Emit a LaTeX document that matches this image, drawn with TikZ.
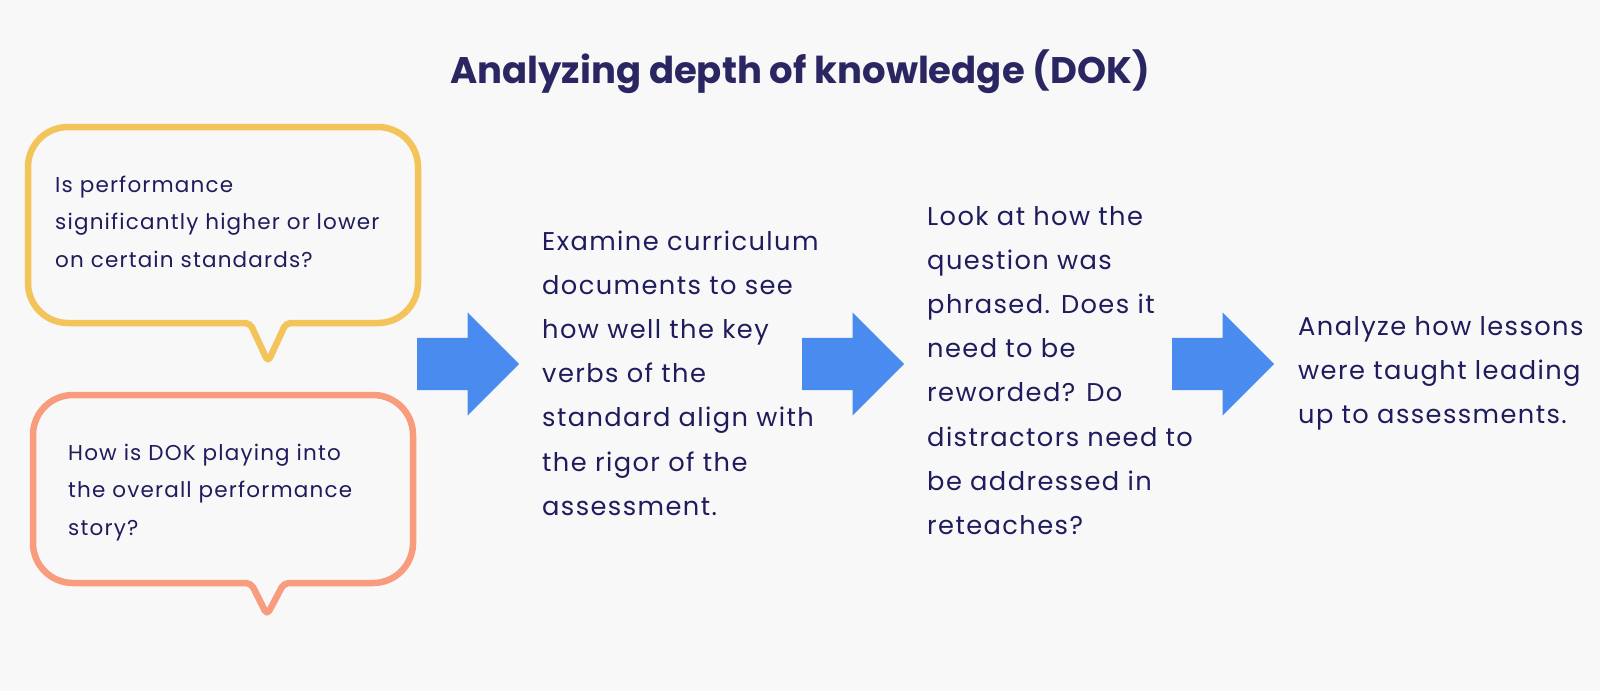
\documentclass[tikz,border=0pt]{standalone}
\usepackage{fontspec}
\setmainfont{Poppins}
\usetikzlibrary{shapes.arrows}
\definecolor{bgc}{HTML}{F8F8F9}
\definecolor{navy}{HTML}{1F1C5C}
\definecolor{titlec}{HTML}{2A2662}
\definecolor{yellowb}{HTML}{F2C45A}
\definecolor{salmonb}{HTML}{F99B7D}
\definecolor{bluea}{HTML}{4A8BF0}
\tikzset{
  bubble/.style={line width=6.5pt, line join=round},
  txt/.style={anchor=base west, inner sep=0pt, text=navy},
  bigarrow/.style={single arrow, fill=bluea, draw=none, inner xsep=0pt, inner ysep=26pt,
    minimum height=102pt, single arrow head extend=25.5pt,
    single arrow tip angle=90, anchor=tail},
}
\newcommand{\btext}[1]{\parbox[t]{420pt}{\fontsize{21.5}{37.5}\selectfont\addfontfeatures{LetterSpace=5.5}\raggedright #1}}
\newcommand{\ctext}[1]{\parbox[t]{420pt}{\fontsize{25.7}{44.2}\selectfont\addfontfeatures{LetterSpace=5.5}\raggedright #1}}
\begin{document}
\begin{tikzpicture}[x=1pt,y=-1pt]
\fill[bgc] (0,0) rectangle (1600,691);
\useasboundingbox (0,0) rectangle (1600,691);
% title
\node[anchor=base, inner sep=0pt, text=titlec, font=\fontsize{37}{44}\selectfont\bfseries] (title) at (800,83) {Analyzing depth of knowledge (DOK)};
% bubbles
\draw[bubble, yellowb] (268,362) [rounded corners=5] -- (286,323) [rounded corners=40] -- (418,323) -- (418,127) -- (28,127) -- (28,323) [rounded corners=5] -- (250,323) -- cycle;
\draw[bubble, salmonb] (267,615) [rounded corners=5] -- (284,583) [rounded corners=40] -- (413,583) -- (413,395) -- (33,395) -- (33,583) [rounded corners=5] -- (251,583) -- cycle;
\node[txt] (q1) at (55,192) {\btext{Is performance\\significantly higher or lower\\on certain standards?}};
\node[txt] (q2) at (68,460) {\btext{How is DOK playing into\\the overall performance\\story?}};
% arrows
\node[bigarrow] (a1) at (417,364) {};
\node[bigarrow] (a2) at (802,364) {};
\node[bigarrow] (a3) at (1172,364) {};
% columns
\node[txt] (s1) at (542,250) {\ctext{Examine curriculum\\documents to see\\how well the key\\verbs of the\\standard align with\\the rigor of the\\assessment.}};
\node[txt] (s2) at (927,225) {\ctext{Look at how the\\question was\\phrased. Does it\\need to be\\reworded? Do\\distractors need to\\be addressed in\\reteaches?}};
\node[txt] (s3) at (1298,335) {\ctext{Analyze how lessons\\were taught leading\\up to assessments.}};
\end{tikzpicture}
\end{document}
